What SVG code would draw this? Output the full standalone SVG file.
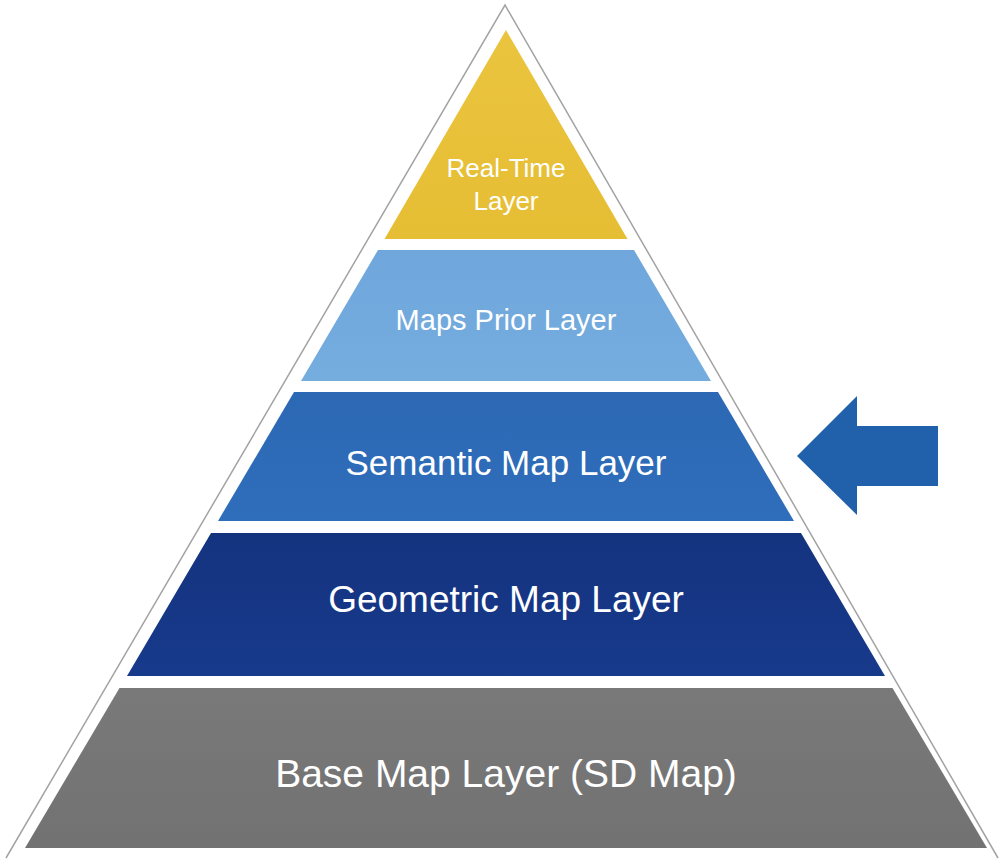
<svg xmlns="http://www.w3.org/2000/svg" width="999" height="859" viewBox="0 0 999 859">
  <defs>
    <linearGradient id="gYellow" x1="0" y1="0" x2="0" y2="1">
      <stop offset="0" stop-color="#EBC43F"/>
      <stop offset="1" stop-color="#E6BE34"/>
    </linearGradient>
    <linearGradient id="gPrior" x1="0" y1="0" x2="0" y2="1">
      <stop offset="0" stop-color="#6FA6DC"/>
      <stop offset="1" stop-color="#76ADDF"/>
    </linearGradient>
    <linearGradient id="gSemantic" x1="0" y1="0" x2="0" y2="1">
      <stop offset="0" stop-color="#2C68B4"/>
      <stop offset="1" stop-color="#2F6EBB"/>
    </linearGradient>
    <linearGradient id="gGeometric" x1="0" y1="0" x2="0" y2="1">
      <stop offset="0" stop-color="#14337F"/>
      <stop offset="1" stop-color="#183A8C"/>
    </linearGradient>
    <linearGradient id="gBase" x1="0" y1="0" x2="0" y2="1">
      <stop offset="0" stop-color="#797979"/>
      <stop offset="1" stop-color="#727272"/>
    </linearGradient>
  </defs>
  <style>
    .label { font-family: "Liberation Sans", Arial, sans-serif; fill: #FFFFFF; text-anchor: middle; }
    .outline { fill: none; stroke: #A3A3A3; stroke-width: 1.5; }
  </style>

  <rect width="999" height="859" fill="#FFFFFF"/>

  <!-- outer pyramid outline -->
  <polyline class="outline" points="6,858 505,5 998,858"/>

  <g id="layer-realtime">
    <polygon points="506,30 384.5,239 627.5,239" fill="url(#gYellow)"/>
    <text class="label" x="506" y="177" font-size="26">Real-Time</text>
    <text class="label" x="506" y="210" font-size="26">Layer</text>
  </g>

  <g id="layer-maps-prior">
    <polygon points="378,250 634,250 711,381 301,381" fill="url(#gPrior)"/>
    <text class="label" x="506" y="330" font-size="29">Maps Prior Layer</text>
  </g>

  <g id="layer-semantic">
    <polygon points="294,392 718,392 794,521 218,521" fill="url(#gSemantic)"/>
    <text class="label" x="506" y="475" font-size="35">Semantic Map Layer</text>
  </g>

  <g id="layer-geometric">
    <polygon points="211,533 801,533 885,676 127,676" fill="url(#gGeometric)"/>
    <text class="label" x="506" y="612" font-size="37">Geometric Map Layer</text>
  </g>

  <g id="layer-base">
    <polygon points="119.5,688 892.5,688 987,848 25,848" fill="url(#gBase)"/>
    <text class="label" x="506" y="787" font-size="39">Base Map Layer (SD Map)</text>
  </g>

  <g id="connectors">
    <polygon points="797,456 857,396 857,426 938,426 938,486 857,486 857,515" fill="#2160AA"/>
  </g>
</svg>
